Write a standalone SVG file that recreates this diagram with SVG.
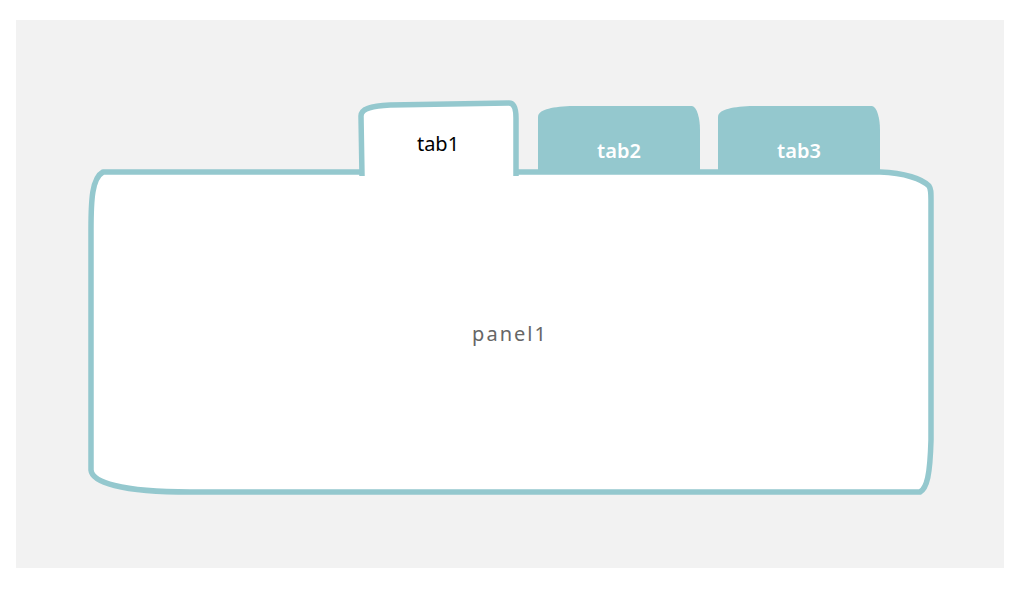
<svg xmlns="http://www.w3.org/2000/svg" width="1024" height="594" viewBox="0 0 1024 594">
<style>
.line{stroke:#94c8ce;stroke-width:5.5;stroke-linejoin:round}
.t{font-family:"Noto Sans","Open Sans",sans-serif;font-size:20px;text-anchor:middle}
.tabon{fill:#94c8ce}
</style>
<rect width="1024" height="594" fill="#ffffff"/>
<rect x="16" y="20" width="988" height="548" fill="#f2f2f2"/>
<g id="panel1">
<path d="M103,172 L880,172 C905,173 922,179 929,186 C931,189 931,192 931,200 L931,440 C930,475 927,488 920,492 L190,492 C120,492 92,482 91,470 L91,230 C91,200 92,178 103,172 Z" fill="#ffffff" class="line"/>
<text class="t" x="510" y="341" fill="#666666" style="letter-spacing:2px">panel1</text>
</g>
<g id="tab2">
<path d="M538,172 L538,117 C538,110 550,107 570,106 L692,106 C697,107 700,118 700,130 L700,172 Z" class="tabon"/>
<text class="t" x="619" y="158" fill="#ffffff" font-weight="600">tab2</text>
</g>
<g id="tab3">
<path d="M718,172 L718,117 C718,110 730,107 750,106 L872,106 C877,107 880,118 880,130 L880,172 Z" class="tabon"/>
<text class="t" x="799" y="158" fill="#ffffff" font-weight="600">tab3</text>
</g>
<g id="tab1">
<path d="M362,176 L362,116 C362,109 370,106 390,105 L509,103 C515,103 516,110 516,118 L516,176 Z" fill="#ffffff"/>
<path d="M362,176 L361,116 C361,109 370,106 390,105 L509,103 C515,103 516,110 516,118 L516,176" fill="none" class="line"/>
<text class="t" x="438" y="151" fill="#000000">tab1</text>
</g>
</svg>
